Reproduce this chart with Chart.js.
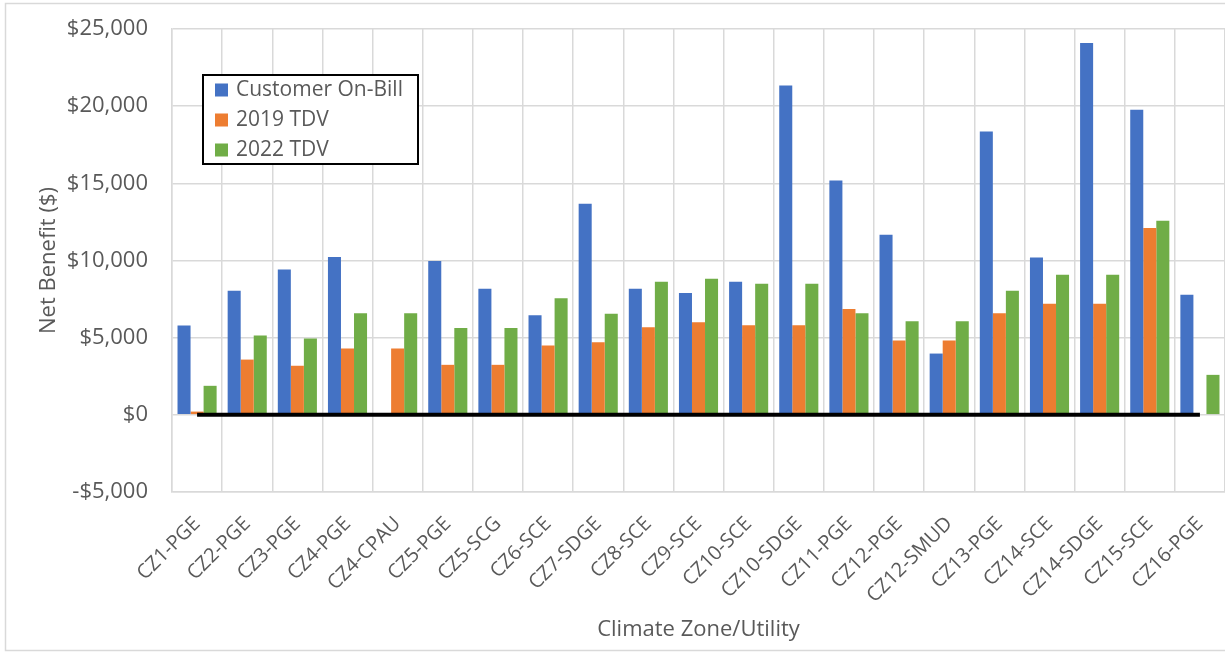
<!DOCTYPE html>
<html lang="en">
<head>
    <meta charset="UTF-8">
    <title>Net Benefit by Climate Zone/Utility</title>
    <style>
        body { margin: 0; background: #ffffff; }
        #wrap { width: 1225px; height: 654px; }
    </style>
</head>
<body>
    <div id="wrap">
        <canvas id="benefitChart" width="1225" height="654"></canvas>
    </div>

    <script src="https://cdn.jsdelivr.net/npm/chart.js"></script>
    <script>
        // Categories and series
        const zones = ['CZ1-PGE', 'CZ2-PGE', 'CZ3-PGE', 'CZ4-PGE', 'CZ4-CPAU', 'CZ5-PGE', 'CZ5-SCG',
            'CZ6-SCE', 'CZ7-SDGE', 'CZ8-SCE', 'CZ9-SCE', 'CZ10-SCE', 'CZ10-SDGE', 'CZ11-PGE',
            'CZ12-PGE', 'CZ12-SMUD', 'CZ13-PGE', 'CZ14-SCE', 'CZ14-SDGE', 'CZ15-SCE', 'CZ16-PGE'];
        const onBill = [5790, 8040, 9420, 10220, 0, 9960, 8170, 6460, 13670, 8170, 7900,
            8620, 21340, 15180, 11670, 3970, 18360, 10200, 24090, 19770, 7780];
        const tdv2019 = [210, 3580, 3180, 4300, 4300, 3240, 3240, 4490, 4710, 5680, 6000,
            5810, 5810, 6850, 4820, 4820, 6590, 7190, 7190, 12100, 0];
        const tdv2022 = [1880, 5140, 4950, 6590, 6590, 5620, 5620, 7560, 6550, 8620, 8810,
            8490, 8490, 6590, 6070, 6070, 8040, 9070, 9070, 12570, 2590];
        const baseline = [0, 0, 0, 0, 0, 0, 0, 0, 0, 0, 0, 0, 0, 0, 0, 0, 0, 0, 0, 0, 0];
        const yTicks = [-5000, 0, 5000, 10000, 15000, 20000, 25000];

        const textGray = '#595959';
        const gridGray = '#d9d9d9';
        const fontFamily = '"Open Sans", "Liberation Sans", sans-serif';

        function money(v) {
            const s = '$' + Math.abs(v).toLocaleString('en-US');
            return v < 0 ? '-' + s : s;
        }

        // Outer frame + white background
        const framePlugin = {
            id: 'frame',
            beforeDraw(chart) {
                const c = chart.ctx;
                c.save();
                c.fillStyle = '#ffffff';
                c.fillRect(0, 0, chart.width, chart.height);
                c.strokeStyle = gridGray;
                c.lineWidth = 1.5;
                c.strokeRect(5.5, 3.5, chart.width + 10, chart.height - 7);
                c.restore();
            }
        };

        // Boxed legend sitting inside the plot area
        const boxLegend = {
            id: 'boxLegend',
            afterDraw(chart) {
                const c = chart.ctx;
                const area = chart.chartArea;
                const x = area.left + 31;
                const y = area.top + 46;
                const w = 215;
                const h = 89;
                const items = chart.data.datasets.filter(d => d.type !== 'line');
                c.save();
                c.fillStyle = '#ffffff';
                c.fillRect(x, y, w, h);
                c.strokeStyle = '#000000';
                c.lineWidth = 2;
                c.strokeRect(x, y, w, h);
                c.font = '21px ' + fontFamily;
                c.textBaseline = 'middle';
                c.textAlign = 'left';
                items.forEach((d, i) => {
                    const cy = y + 15 + i * 30;
                    c.fillStyle = d.backgroundColor;
                    c.fillRect(x + 12, cy - 6.5, 13, 13);
                    c.fillStyle = textGray;
                    c.fillText(d.label, x + 33, cy);
                });
                c.restore();
            }
        };

        const ctx = document.getElementById('benefitChart').getContext('2d');
        const benefitChart = new Chart(ctx, {
            type: 'bar',
            data: {
                labels: zones,
                datasets: [
                    { type: 'line', label: 'zero', data: baseline, borderColor: '#000000', borderWidth: 4,
                      pointRadius: 0, fill: false, order: 0 },
                    { label: 'Customer On-Bill', data: onBill, backgroundColor: '#4472C4', order: 1 },
                    { label: '2019 TDV', data: tdv2019, backgroundColor: '#ED7D31', order: 1 },
                    { label: '2022 TDV', data: tdv2022, backgroundColor: '#70AD47', order: 1 }
                ]
            },
            options: {
                responsive: false,
                animation: false,
                devicePixelRatio: 1,
                layout: { padding: { left: 30, top: 29, right: 0, bottom: 0 } },
                datasets: { bar: { categoryPercentage: 0.78, barPercentage: 1.0 } },
                plugins: {
                    legend: { display: false },
                    tooltip: { enabled: false }
                },
                scales: {
                    x: {
                        grid: { color: gridGray, lineWidth: 1.5, offset: true, drawTicks: false },
                        border: { color: gridGray, width: 1.5 },
                        ticks: {
                            autoSkip: false, minRotation: 45, maxRotation: 45, padding: 20,
                            color: textGray, font: { family: fontFamily, size: 20 }
                        },
                        title: {
                            display: true, text: 'Climate Zone/Utility', color: textGray,
                            font: { family: fontFamily, size: 22 }, padding: { top: 0, bottom: 11 }
                        },
                        afterFit(scale) {
                            scale.height = 162;
                            scale.paddingLeft = 0;
                            scale.paddingRight = 0;
                        }
                    },
                    y: {
                        min: -5000,
                        max: 25000,
                        afterBuildTicks(scale) { scale.ticks = yTicks.map(v => ({ value: v })); },
                        grid: { color: gridGray, lineWidth: 1.5, drawTicks: false },
                        border: { color: gridGray, width: 1.5 },
                        ticks: {
                            padding: 24, color: textGray,
                            font: { family: fontFamily, size: 22 },
                            callback: v => money(v)
                        },
                        title: {
                            display: true, text: 'Net Benefit ($)', color: textGray,
                            font: { family: fontFamily, size: 22 }, padding: { top: 6, bottom: 0 }
                        },
                        afterFit(scale) {
                            scale.width = 142;
                            scale.paddingTop = 0;
                            scale.paddingBottom = 0;
                        }
                    }
                }
            },
            plugins: [framePlugin, boxLegend]
        });
    </script>
</body>
</html>
